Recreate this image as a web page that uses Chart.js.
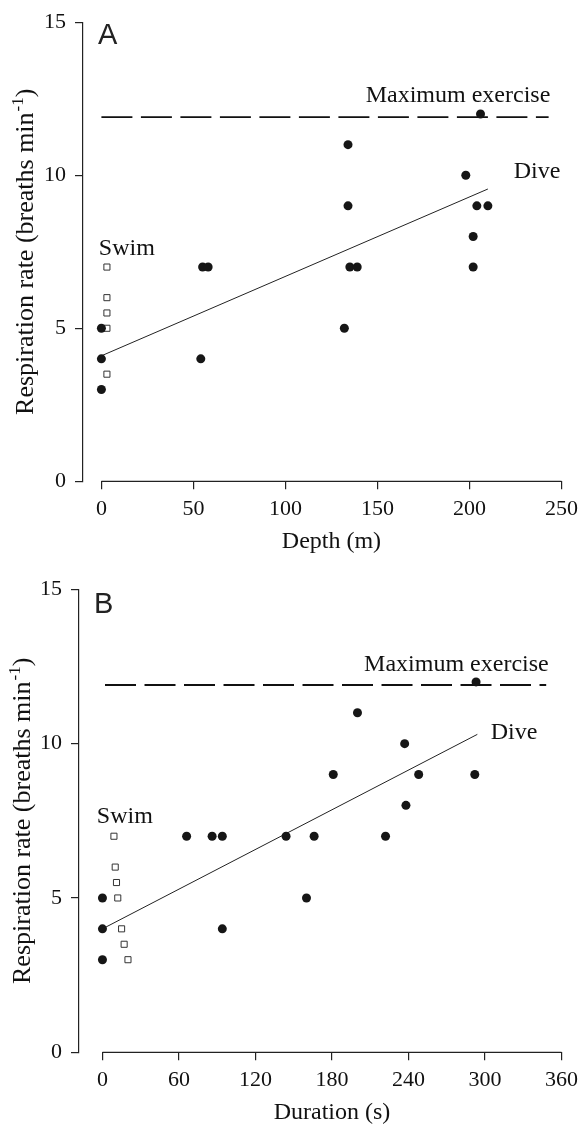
<!DOCTYPE html>
<html>
<head>
<meta charset="utf-8">
<script src="https://cdn.jsdelivr.net/npm/chart.js@4.4.1/dist/chart.umd.min.js"></script>
<style>
  body { margin: 0; background: #fff; }
  .panel { position: relative; width: 585px; }
</style>
</head>
<body>
<div class="panel" style="height:560px"><canvas id="depthChart"></canvas></div>
<div class="panel" style="height:564px"><canvas id="durationChart"></canvas></div>
<script>
// shared y axis
var rateTicks = [0, 5, 10, 15];
var maxExercise = 11.9;

// panel A - depth
var depthTicks = [0, 50, 100, 150, 200, 250];
var diveDepth     = [0, 0, 0, 54, 55, 58, 132, 134, 134, 135, 139, 198, 202, 202, 204, 206, 210];
var diveDepthRate = [5, 4, 3, 4,  7,  7,  5,   11,  9,   7,   7,   10,  8,   7,   9,   12,  9];
var swimDepth     = [3, 3, 3, 3, 3];
var swimDepthRate = [7, 6, 5.5, 5, 3.5];
var depthFitX  = [0, 210];
var depthFitY  = [4.1, 9.55];
var depthMaxX  = [0, 243];

// panel B - duration
var durationTicks = [0, 60, 120, 180, 240, 300, 360];
var diveDur     = [0, 0, 0, 66, 86, 94, 94, 144, 160, 166, 181, 200, 222, 237, 238, 248, 292, 293];
var diveDurRate = [5, 4, 3, 7,  7,  7,  4,  7,   5,   7,   9,   11,  7,   10,  8,   9,   9,   12];
var swimDur     = [9, 10, 11, 12, 15, 17, 20];
var swimDurRate = [7, 6, 5.5, 5, 4, 3.5, 3];
var durFitX  = [0, 294];
var durFitY  = [4.0, 10.3];
var durMaxX  = [2, 348];

var SERIF = "'Liberation Serif', 'Times New Roman', serif";
var SANS = "'Liberation Sans', Arial, sans-serif";
Chart.defaults.font.family = SERIF;
Chart.defaults.color = '#111';

function pts(xs, ys) {
  return xs.map(function (x, i) { return { x: x, y: ys[i] }; });
}

// axis line only across the tick range, titles, panel letter, text labels
var decorPlugin = {
  id: 'decor',
  afterDraw: function (chart, args, opts) {
    var ctx = chart.ctx, xs = chart.scales.x, ys = chart.scales.y, area = chart.chartArea;
    var x0 = xs.getPixelForValue(opts.xTicks[0]);
    var x1 = xs.getPixelForValue(opts.xTicks[opts.xTicks.length - 1]);
    var yb = ys.getPixelForValue(0);
    ctx.save();
    ctx.strokeStyle = '#222';
    ctx.lineWidth = 1.2;
    ctx.beginPath();
    ctx.moveTo(x0, yb);
    ctx.lineTo(x1, yb);
    ctx.stroke();

    ctx.fillStyle = '#111';
    ctx.textBaseline = 'alphabetic';
    // x title
    ctx.font = '24px ' + SERIF;
    ctx.textAlign = 'center';
    ctx.fillText(opts.xTitle, (x0 + x1) / 2, yb + opts.xTitleGap);

    // y title with superscript, centred on the plot height
    var main = 'Respiration rate (breaths min', sup = '-1', tail = ')';
    ctx.font = '26px ' + SERIF;
    var wMain = ctx.measureText(main).width, wTail = ctx.measureText(tail).width;
    ctx.font = '17px ' + SERIF;
    var wSup = ctx.measureText(sup).width + 1;
    var total = wMain + wSup + wTail;
    ctx.save();
    ctx.translate(area.left - opts.yTitleGap, (area.top + area.bottom) / 2 + total / 2);
    ctx.rotate(-Math.PI / 2);
    ctx.textAlign = 'left';
    ctx.font = '26px ' + SERIF;
    ctx.fillText(main, 0, 0);
    ctx.font = '17px ' + SERIF;
    ctx.fillText(sup, wMain + 1, -10);
    ctx.font = '26px ' + SERIF;
    ctx.fillText(tail, wMain + wSup, 0);
    ctx.restore();

    // panel letter
    ctx.font = '29px ' + SANS;
    ctx.textAlign = 'left';
    ctx.fillStyle = '#222';
    ctx.fillText(opts.letter, area.left + 15, area.top + opts.letterDrop);

    // text labels in data units
    ctx.fillStyle = '#111';
    ctx.font = '24px ' + SERIF;
    opts.labels.forEach(function (l) {
      ctx.fillText(l.text, xs.getPixelForValue(l.x), ys.getPixelForValue(l.y));
    });
    ctx.restore();
  }
};

function makeChart(id, c) {
  return new Chart(document.getElementById(id), {
    type: 'scatter',
    data: {
      datasets: [{
        data: pts(c.diveX, c.diveY),
        pointStyle: 'circle',
        pointRadius: 4.5,
        backgroundColor: '#161616',
        borderColor: '#161616',
        borderWidth: 0
      }, {
        data: pts(c.swimX, c.swimY),
        pointStyle: 'rect',
        pointRadius: 4.3,
        backgroundColor: '#fff',
        borderColor: '#333',
        borderWidth: 1
      }, {
        data: pts(c.fitX, c.fitY),
        showLine: true,
        pointRadius: 0,
        borderColor: '#222',
        borderWidth: 1
      }, {
        data: pts(c.maxX, [maxExercise, maxExercise]),
        showLine: true,
        pointRadius: 0,
        borderColor: '#111',
        borderWidth: 1.8,
        borderDash: [31, 8.5]
      }]
    },
    options: {
      responsive: true,
      maintainAspectRatio: false,
      animation: false,
      layout: { padding: { top: c.padTop, right: c.padRight, left: 0, bottom: 0 } },
      scales: {
        x: {
          type: 'linear',
          min: c.xMin,
          max: c.xTicks[c.xTicks.length - 1],
          afterBuildTicks: function (s) { s.ticks = c.xTicks.map(function (v) { return { value: v }; }); },
          afterFit: function (s) { s.height = c.xHeight; },
          grid: { drawOnChartArea: false, drawTicks: true, tickLength: 8, color: '#222', lineWidth: 1.2 },
          border: { display: false },
          ticks: { font: { size: 22 }, color: '#111', padding: 7, maxRotation: 0, autoSkip: false }
        },
        y: {
          min: 0,
          max: 15,
          afterBuildTicks: function (s) { s.ticks = rateTicks.map(function (v) { return { value: v }; }); },
          afterFit: function (s) { s.width = c.yWidth; },
          grid: { drawOnChartArea: false, drawTicks: true, tickLength: 8, color: '#222', lineWidth: 1.2 },
          border: { display: true, color: '#222', width: 1.2 },
          ticks: { font: { size: 22 }, color: '#111', padding: 9, autoSkip: false }
        }
      },
      plugins: {
        legend: { display: false },
        tooltip: { enabled: false },
        decor: {
          xTicks: c.xTicks,
          xTitle: c.xTitle,
          xTitleGap: c.xTitleGap,
          yTitleGap: c.yTitleGap,
          letter: c.letter,
          letterDrop: c.letterDrop,
          labels: c.labels
        }
      }
    },
    plugins: [decorPlugin]
  });
}

makeChart('depthChart', {
  diveX: diveDepth, diveY: diveDepthRate,
  swimX: swimDepth, swimY: swimDepthRate,
  fitX: depthFitX, fitY: depthFitY,
  maxX: depthMaxX,
  xTicks: depthTicks, xMin: -10,
  padTop: 18, padRight: 20, xHeight: 78.7, yWidth: 83,
  xTitle: 'Depth (m)', xTitleGap: 67, yTitleGap: 50,
  letter: 'A', letterDrop: 22,
  labels: [
    { text: 'Maximum exercise', x: 143.6, y: 12.38 },
    { text: 'Dive', x: 224, y: 9.9 },
    { text: 'Swim', x: -1.4, y: 7.41 }
  ]
});

makeChart('durationChart', {
  diveX: diveDur, diveY: diveDurRate,
  swimX: swimDur, swimY: swimDurRate,
  fitX: durFitX, fitY: durFitY,
  maxX: durMaxX,
  xTicks: durationTicks, xMin: -18.4,
  padTop: 29.3, padRight: 18.5, xHeight: 71.7, yWidth: 79,
  xTitle: 'Duration (s)', xTitleGap: 66.5, yTitleGap: 49,
  letter: 'B', letterDrop: 24,
  labels: [
    { text: 'Maximum exercise', x: 205.2, y: 12.36 },
    { text: 'Dive', x: 304.5, y: 10.16 },
    { text: 'Swim', x: -4.4, y: 7.42 }
  ]
});
</script>
</body>
</html>
